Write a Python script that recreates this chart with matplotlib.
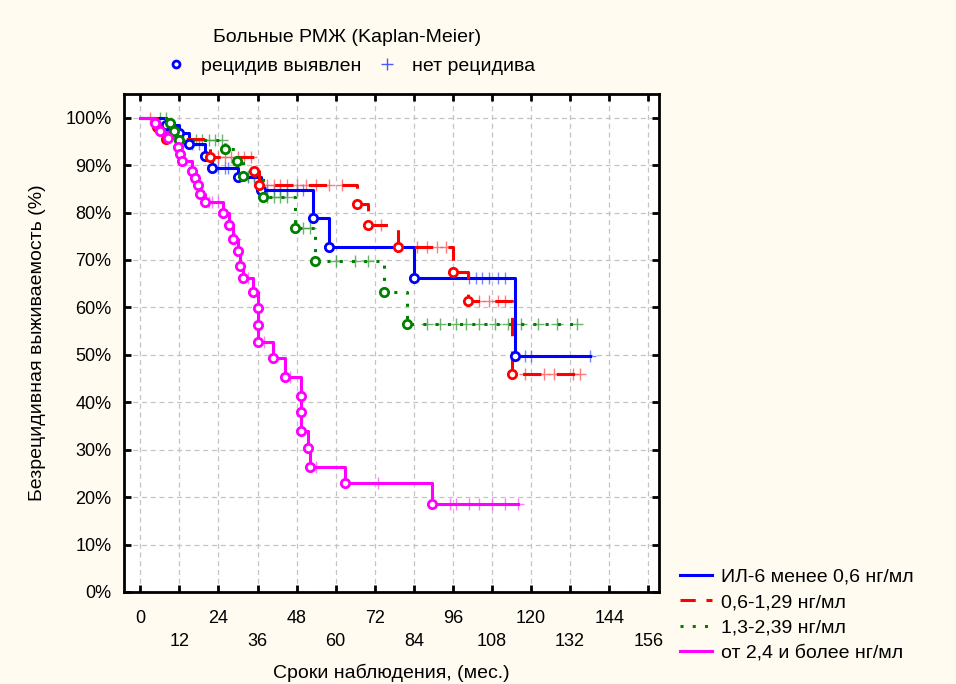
import numpy as np
import matplotlib
matplotlib.use('Agg')
from matplotlib import pyplot as plt
from matplotlib.lines import Line2D

plt.rcParams['font.family'] = ['Liberation Sans', 'DejaVu Sans']

# event times (months) and survival (%) after each event
blue_t = [0, 8, 12, 15, 20, 22, 30, 37, 53, 58, 84, 115]
blue_s = [100, 98.5, 96.8, 94.5, 92.0, 89.3, 87.5, 84.8, 78.9, 72.8, 66.2, 49.8]
blue_c = [16, 18, 24, 26, 27, 33, 35, 39, 41, 43, 45, 48, 50, 101, 103, 105,
          107, 110, 112, 118, 120, 138]

red_t = [0, 5, 8, 21.5, 35, 36.5, 66.6, 70, 79, 96, 100.7, 114.3]
red_s = [100, 98.0, 95.5, 91.8, 88.8, 85.9, 81.9, 77.4, 72.8, 67.5, 61.4, 46.0]
red_c = [3, 24, 26, 28, 30, 32, 34, 39, 41, 43, 45, 48, 51, 54, 58, 62, 74, 85,
         88, 91, 94, 104, 107, 110, 112, 118, 124, 127, 133, 135]

green_t = [0, 9.2, 10.5, 12, 26, 29.8, 31.5, 37.7, 47.6, 53.7, 75, 82]
green_s = [100, 98.9, 97.2, 95.4, 93.4, 90.9, 87.8, 83.3, 76.8, 69.8, 63.3, 56.5]
green_c = [6, 8, 13, 15, 17, 19, 21, 23, 25, 33, 35, 39, 41, 43, 45, 50, 52, 60,
           66, 70, 88, 92, 97, 100, 104, 109, 113, 117, 122, 128, 134]

mag_t = [0, 4.6, 6.1, 8.6, 11.7, 12.3, 12.9, 16, 16.9, 17.8, 18.2, 20, 25.5,
         27.3, 28.5, 30, 30.7, 31.6, 34.7, 36.2, 36.2, 36.2, 40.8, 44.5, 49.3,
         49.3, 49.3, 51.5, 52.2, 62.9, 89.6]
mag_s = [100, 98.9, 97.3, 95.8, 93.9, 92.4, 90.9, 88.8, 87.3, 85.9, 84.0, 82.3,
         80.0, 77.4, 74.5, 71.9, 68.8, 66.2, 63.3, 59.9, 56.3, 52.7, 49.4, 45.4,
         41.4, 38.0, 34.0, 30.4, 26.4, 23.0, 18.6]
mag_c = [21, 22, 24, 29, 33, 35, 38, 46, 54, 73, 95, 97, 101, 104, 108, 112, 116]

# label, times, surv, censored, colour, line style, legend style, censor colour
groups = [
    ('ИЛ-6 менее 0,6 нг/мл', blue_t, blue_s, blue_c, 'blue', '-', '-', '#4a5cff'),
    ('0,6-1,29 нг/мл', red_t, red_s, red_c, 'red', (0, (6, 5)), (0, (5, 3.5)), '#ff5050'),
    ('1,3-2,39 нг/мл', green_t, green_s, green_c, 'green', (0, (1, 3)), (0, (1, 3)), '#3a9a3a'),
    ('от 2,4 и более нг/мл', mag_t, mag_s, mag_c, 'magenta', '-', '-', '#ff50ff'),
]


def surv_at(t, times, surv):
    i = np.searchsorted(times, t, side='right') - 1
    return surv[i]


fig = plt.figure(figsize=(9.56, 6.84), dpi=100, facecolor='#fffbf0')
ax = fig.add_axes([124/956, 1-592/684, (659-124)/956, (592-94)/684])
ax.set_facecolor('white')

handles = []
for label, t, s, c, col, ls, lls, ccol in groups:
    t = np.array(t, dtype=float)
    s = np.array(s, dtype=float)
    tend = max(max(c), t[-1])
    ax.step(np.append(t, tend), np.append(s, s[-1]), where='post', color=col,
            ls=ls, lw=2.2, zorder=3)
    ax.plot(t[1:], s[1:], 'o', ms=6, mfc='white', mec=col, mew=2, zorder=4)
    cy = [surv_at(x, t, s) for x in c]
    ax.plot(c, cy, '+', ms=9, mew=1.0, color=ccol, alpha=0.75, zorder=2)
    handles.append(Line2D([], [], color=col, ls=lls, lw=2.2))

ax.set_xlim(-5, 159.3)
ax.set_ylim(0, 105)
xt = np.arange(0, 157, 12)
ax.set_xticks(xt)
ax.set_xticklabels([str(v) if v % 24 == 0 else '\n' + str(v) for v in xt],
                   fontsize=13, linespacing=1.45)
ax.set_yticks(np.arange(0, 101, 10))
ax.set_yticklabels(['%d%%' % v for v in range(0, 101, 10)], fontsize=13)
ax.tick_params(direction='in', top=True, right=True, width=2, length=5)
ax.tick_params(axis='x', pad=13)
ax.tick_params(axis='y', pad=9)
ax.grid(True, ls=(0, (4, 3)), color='#c4c4c4', lw=0.9)
ax.set_axisbelow(True)
for sp in ax.spines.values():
    sp.set_linewidth(2)

ax.set_xlabel('Сроки наблюдения, (мес.)', fontsize=14, labelpad=10)
ax.set_ylabel('Безрецидивная выживаемость (%)', fontsize=14, labelpad=14)

fig.legend(handles, [g[0] for g in groups], loc='upper left',
           bbox_to_anchor=(680/956, 1-568/684), frameon=False, fontsize=14,
           handlelength=1.65, handletextpad=0.45, labelspacing=0.4,
           borderaxespad=0, borderpad=0)

top = [Line2D([], [], ls='none', marker='o', ms=5, mfc='white', mec='blue', mew=2),
       Line2D([], [], ls='none', marker='+', ms=9, mew=1, color='#4a5cff')]
fig.legend(top, ['рецидив выявлен', 'нет рецидива'], loc='upper center',
           bbox_to_anchor=(346/956, 1-57/684), ncol=2, frameon=False,
           fontsize=14, handletextpad=0.3, columnspacing=0.3, borderaxespad=0,
           borderpad=0)
fig.text(347/956, 1-38/684, 'Больные РМЖ (Kaplan-Meier)', ha='center',
         va='center', fontsize=14)

fig.savefig('out.png', dpi=100, facecolor=fig.get_facecolor())
